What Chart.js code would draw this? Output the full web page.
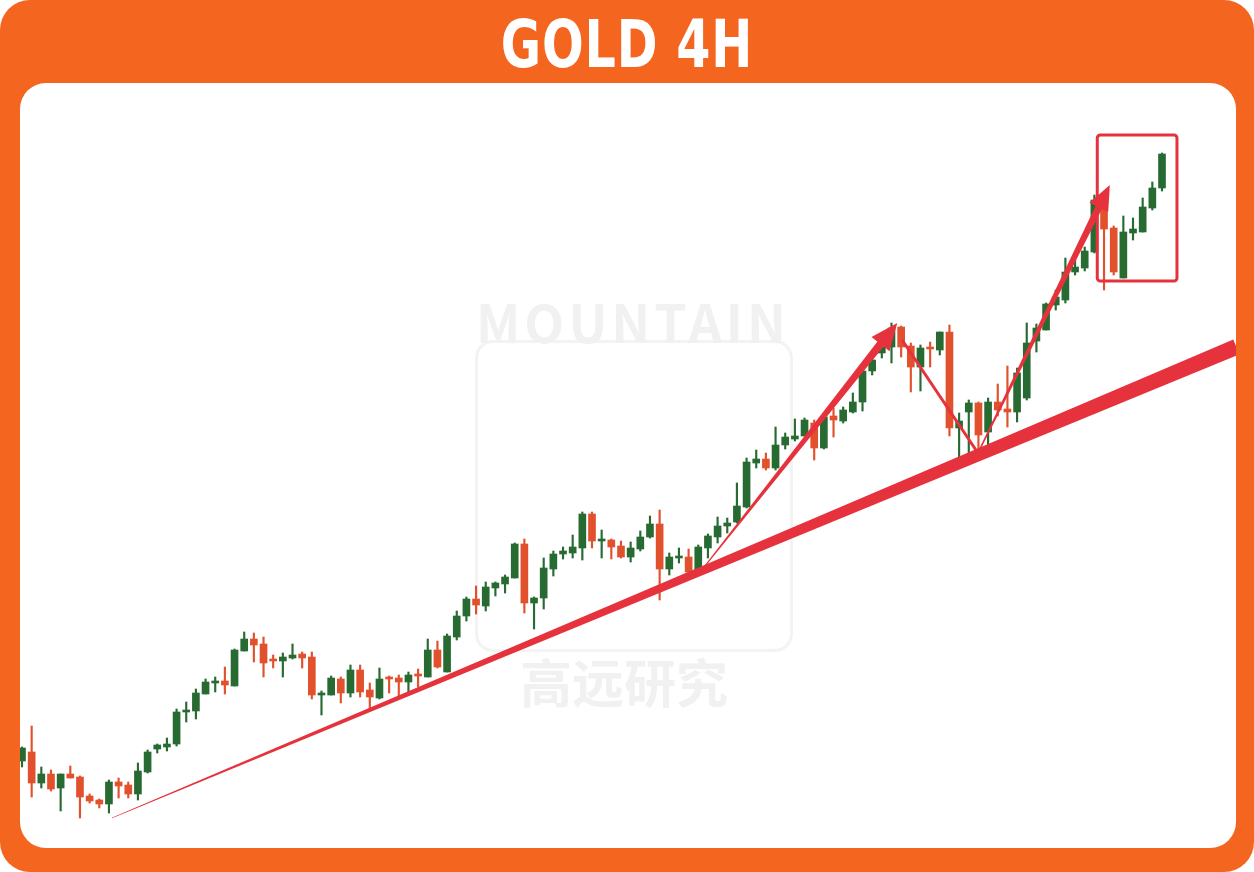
<!DOCTYPE html>
<html>
<head>
<meta charset="utf-8">
<script src="https://cdn.jsdelivr.net/npm/chart.js@4/dist/chart.umd.min.js"></script>
<style>
  html, body { margin: 0; padding: 0; background: #fff; }
  #frame {
    position: absolute; left: 0; top: 0; width: 1254px; height: 872px;
    background: #f4661f; border-radius: 30px; overflow: hidden;
  }
  #title {
    position: absolute; left: 0; top: 0; width: 1254px; height: 83px;
    line-height: 90px; text-align: center; color: #fff;
    font-family: "DejaVu Sans Condensed", "DejaVu Sans", sans-serif;
    font-weight: bold; font-size: 65px; letter-spacing: 1px;
    transform: scaleX(0.84);
  }
  #panel {
    position: absolute; left: 20px; top: 83px; width: 1216px; height: 765px;
    background: #fff; border-radius: 26px; overflow: hidden;
  }
  .wm { position: absolute; color: #f1f1f1; font-family: "Noto Sans CJK SC", "DejaVu Sans", sans-serif; font-weight: bold; }
  #wmBox {
    position: absolute; left: 455px; top: 257px; width: 312px; height: 306px;
    border: 3px solid #f3f3f3; border-radius: 18px;
  }
  canvas { position: absolute; left: 0; top: 0; }
</style>
</head>
<body>
<div id="frame">
  <div id="title">GOLD 4H</div>
  <div id="panel">
    <div id="wmBox"></div>
    <div class="wm" style="left:456px;top:200px;font-size:52px;letter-spacing:4px;">MOUNTAIN</div>
    <div class="wm" style="left:500px;top:560px;font-size:52px;">高远研究</div>
    <canvas id="goldChart" width="1216" height="765"></canvas>
  </div>
</div>
<script>
// 4H candles (relative price units)
const open  = [139,148,117,126,112,126,123,104,100,96,118,115,106,128,151,153,156,188,189,206,
               217,219,214,249,261,256,240,239,242,246,243,205,205,221,207,230,210,202,222,222,
               218,225,223,250,228,263,284,301,294,312,316,322,356,297,302,331,346,347,352,386,
               359,360,354,343,351,363,376,331,342,343,328,352,363,374,378,393,437,441,432,455,
               461,464,477,452,484,479,488,498,529,547,553,573,554,533,553,550,568,472,488,497,
               468,498,491,488,502,559,570,595,600,628,632,648,697,672,622,667,668,692,712];
const close = [152,117,126,111,126,122,103,99,96,118,114,106,129,148,155,156,188,190,207,218,
               219,215,250,261,255,237,239,243,245,242,205,207,222,207,230,208,203,221,221,218,
               225,224,250,233,264,284,301,295,313,317,323,356,297,302,332,346,349,353,386,359,
               360,353,343,352,363,376,331,343,344,328,353,364,374,377,394,438,441,432,455,463,
               464,480,452,483,480,490,498,529,540,553,572,553,533,552,551,568,472,479,497,465,
               498,490,488,527,557,572,596,603,628,633,649,700,671,628,668,671,693,712,746];
const high  = [153,174,133,130,126,134,124,106,101,120,122,118,137,150,156,162,191,198,211,221,
               223,233,251,268,267,263,245,247,256,248,248,209,224,223,235,235,217,232,224,225,
               228,231,261,259,266,289,303,314,318,318,325,357,361,303,342,349,353,365,388,388,
               370,361,359,358,369,384,390,347,352,351,355,366,383,382,417,442,450,447,473,467,
               481,482,480,485,492,493,507,530,545,557,577,574,557,555,558,568,575,487,500,498,
               502,516,534,532,577,576,597,610,642,640,653,705,701,674,684,682,702,718,747];
const low   = [133,103,112,109,89,122,82,97,92,87,102,102,100,127,147,149,154,178,181,206,
               208,206,214,249,238,223,232,223,241,232,201,185,205,197,203,203,191,201,207,203,
               208,213,223,232,228,260,279,286,289,304,307,322,287,271,291,324,341,342,340,352,
               342,341,342,338,349,362,300,325,337,325,328,342,357,367,377,392,432,430,430,451,
               459,464,440,451,463,477,487,489,525,542,537,543,508,509,533,545,464,443,443,450,
               455,484,473,478,500,548,570,590,597,625,629,647,610,625,622,660,668,690,709];
const labels = open.map((_, i) => i + 1);

// overlay marks in data coords [candle index, price]
const trendFrom = [9.3, 82],   trendTo = [125.7, 553];
const arrow1From = [70.2, 328], arrow1To = [90.6, 577];
const pullFrom = [91.1, 560],   pullTo = [98.95, 447];
const arrow2From = [98.95, 447], arrow2To = [112.6, 715];
const boxX = [111.3, 119.55], boxY = [765, 619];

const UP = '#276b33';
const DOWN = '#e2512d';
const LINE_RED = '#e5323d';
const colors = open.map((o, i) => close[i] >= o ? UP : DOWN);

function taper(ctx, x0, y0, x1, y1, w0, w1) {
    const dx = x1 - x0, dy = y1 - y0, len = Math.hypot(dx, dy);
    const nx = -dy / len, ny = dx / len;
    ctx.beginPath();
    ctx.moveTo(x0 + nx * w0 / 2, y0 + ny * w0 / 2);
    ctx.lineTo(x1 + nx * w1 / 2, y1 + ny * w1 / 2);
    ctx.lineTo(x1 - nx * w1 / 2, y1 - ny * w1 / 2);
    ctx.lineTo(x0 - nx * w0 / 2, y0 - ny * w0 / 2);
    ctx.closePath();
    ctx.fill();
}

function arrow(ctx, x0, y0, x1, y1, w0, w1, headLen, headW) {
    const dx = x1 - x0, dy = y1 - y0, len = Math.hypot(dx, dy);
    const ux = dx / len, uy = dy / len, nx = -uy, ny = ux;
    const bx = x1 - ux * headLen, by = y1 - uy * headLen;
    taper(ctx, x0, y0, bx + ux * 2, by + uy * 2, w0, w1);
    ctx.beginPath();
    ctx.moveTo(x1, y1);
    ctx.lineTo(bx + nx * headW / 2, by + ny * headW / 2);
    ctx.lineTo(bx - nx * headW / 2, by - ny * headW / 2);
    ctx.closePath();
    ctx.fill();
}

const overlay = {
    id: 'overlay',
    afterDatasetsDraw(chart) {
        const { ctx, scales: { x, y } } = chart;
        const px = p => [x.getPixelForValue(p[0]), y.getPixelForValue(p[1])];
        ctx.save();
        ctx.fillStyle = LINE_RED;

        // rising support line
        const [t0x, t0y] = px(trendFrom), [t1x, t1y] = px(trendTo);
        taper(ctx, t0x, t0y, t1x, t1y, 0.8, 16);

        // impulse arrows and pullback leg
        const [a0x, a0y] = px(arrow1From), [a1x, a1y] = px(arrow1To);
        arrow(ctx, a0x, a0y, a1x, a1y, 1, 8, 27, 23);
        const [p0x, p0y] = px(pullFrom), [p1x, p1y] = px(pullTo);
        taper(ctx, p0x, p0y, p1x, p1y, 3, 3);
        const [b0x, b0y] = px(arrow2From), [b1x, b1y] = px(arrow2To);
        arrow(ctx, b0x, b0y, b1x, b1y, 1.5, 7, 25, 21);

        // highlight box
        const bl = x.getPixelForValue(boxX[0]), br = x.getPixelForValue(boxX[1]);
        const bt = y.getPixelForValue(boxY[0]), bb = y.getPixelForValue(boxY[1]);
        ctx.strokeStyle = LINE_RED;
        ctx.lineWidth = 3;
        ctx.beginPath();
        ctx.roundRect(bl, bt, br - bl, bb - bt, 3);
        ctx.stroke();
        ctx.restore();
    }
};

const ctx = document.getElementById('goldChart').getContext('2d');
new Chart(ctx, {
    type: 'bar',
    data: {
        labels: labels,
        datasets: [{
            label: 'Wick',
            data: low.map((l, i) => [l, high[i]]),
            backgroundColor: colors,
            barThickness: 1.5,
            grouped: false,
            clip: false
        }, {
            label: 'Body',
            data: open.map((o, i) => [o, close[i]]),
            backgroundColor: colors,
            barThickness: 7,
            minBarLength: 2,
            grouped: false,
            clip: false
        }]
    },
    options: {
        responsive: false,
        animation: false,
        layout: { padding: { left: 2, right: 74, top: 0, bottom: 0 } },
        scales: {
            x: { display: false, offset: false },
            y: { display: false, min: 52, max: 817 }
        },
        plugins: {
            legend: { display: false },
            tooltip: { enabled: false }
        }
    },
    plugins: [overlay]
});
</script>
</body>
</html>
